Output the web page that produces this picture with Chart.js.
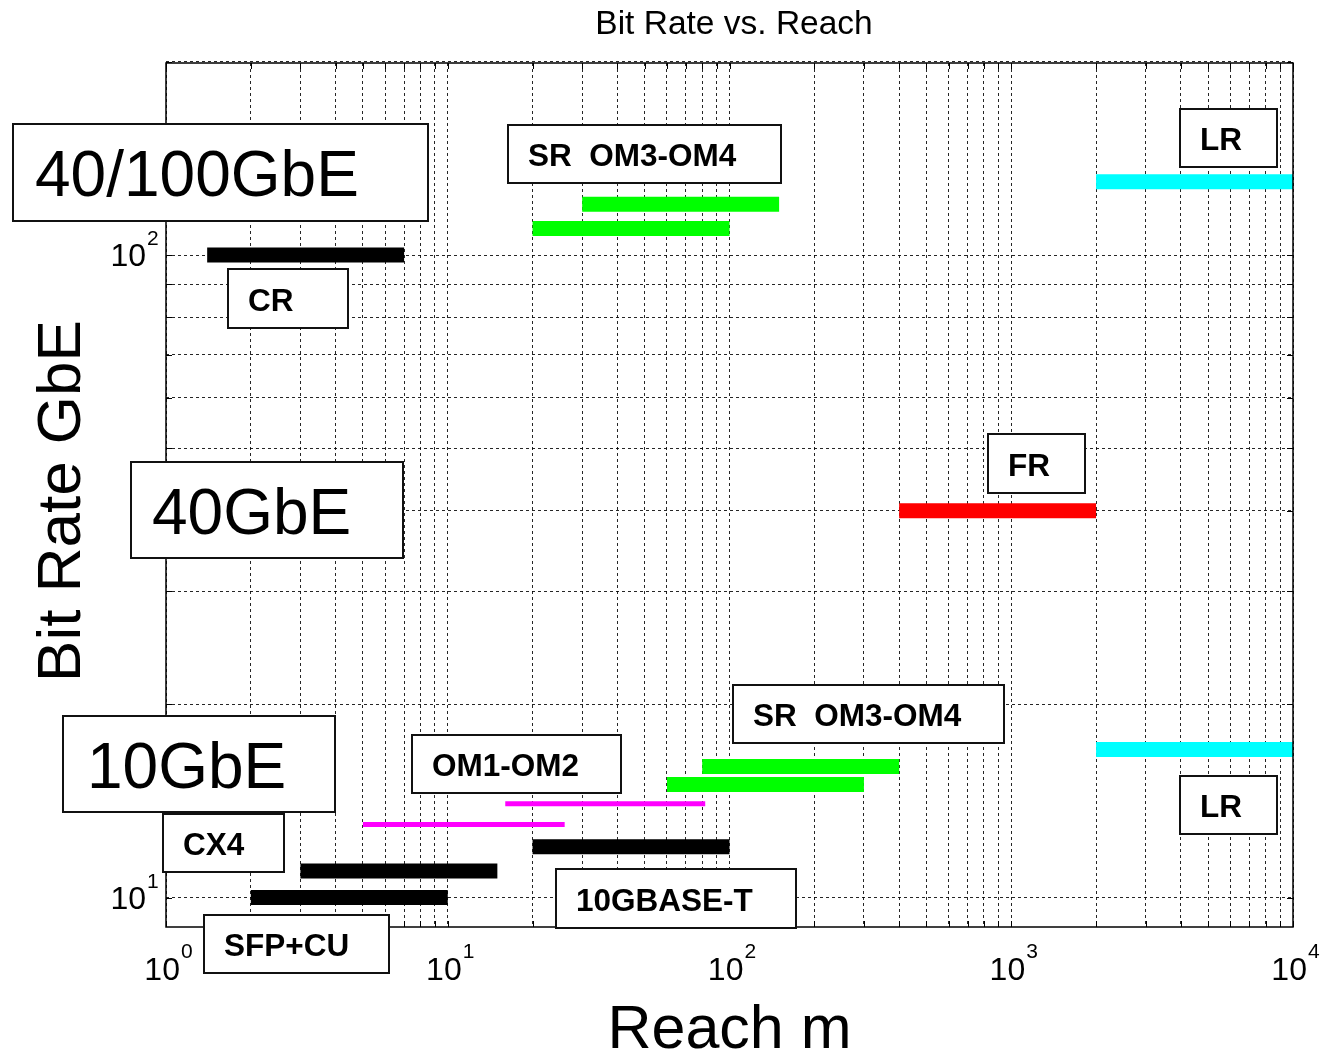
<!DOCTYPE html>
<html>
<head>
<meta charset="utf-8">
<title>Bit Rate vs. Reach</title>
<script src="https://cdn.jsdelivr.net/npm/chart.js@4.4.1/dist/chart.umd.min.js"></script>
<style>
  html, body { margin: 0; padding: 0; background: #fff; }
  #wrap { width: 1321px; height: 1058px; }
</style>
</head>
<body>
<div id="wrap"><canvas id="chart" width="1321" height="1058"></canvas></div>
<script>
// Values: reach in metres, bit rate in GbE.
const linkNames = ['CR', 'SR OM3-OM4 (a)', 'SR OM3-OM4 (b)', 'LR', 'FR', 'LR 10G', 'SR 10G (a)', 'SR 10G (b)',
                   'OM1-OM2 (a)', 'OM1-OM2 (b)', '10GBASE-T', 'CX4', 'SFP+CU'];
const reachFrom = [1.4, 30, 20, 2000, 400, 2000, 80, 60, 16, 5, 20, 3, 2];
const reachTo   = [7, 150, 100, 10000, 2000, 10000, 400, 300, 82, 26, 100, 15, 10];
const bitRate   = [100, 120, 110, 130, 40, 17, 16, 15, 14, 13, 12, 11, 10];

// styles
const black = '#000000';
const green = '#00ff00';
const cyan = '#00ffff';
const red = '#ff0000';
const magenta = '#ff00ff';
const linkColors = [black, green, green, cyan, red, cyan, green, green, magenta, magenta, black, black, black];
const linkWidths = [15, 15, 15, 15, 15, 15, 15, 15, 5, 5, 15, 15, 15];

// axis ticks
const xTickValues = [1, 10, 100, 1000, 10000];
const xTickExps = ['0', '1', '2', '3', '4'];
const yTickValues = [10, 100];
const yTickExps = ['1', '2'];
const yGridValues = [10, 20, 30, 40, 50, 60, 70, 80, 90, 100, 200];
const xGridValues = [];
[1, 10, 100, 1000].forEach(d => {
  for (let m = 1; m <= 9; m++) xGridValues.push(m * d);
});
xGridValues.push(10000);

// text boxes drawn over the plot (canvas pixels)
const boxes = [
  { text: '40/100GbE',   x: 13,   y: 124, w: 415, h: 97, size: 64, bold: false, pad: 22 },
  { text: 'SR  OM3-OM4', x: 508,  y: 125, w: 273, h: 58 },
  { text: 'LR',          x: 1180, y: 109, w: 97,  h: 58 },
  { text: 'CR',          x: 228,  y: 269, w: 120, h: 59 },
  { text: '40GbE',       x: 131,  y: 462, w: 272, h: 96, size: 64, bold: false, pad: 21 },
  { text: 'FR',          x: 988,  y: 434, w: 97,  h: 59 },
  { text: 'SR  OM3-OM4', x: 733,  y: 685, w: 271, h: 58 },
  { text: '10GbE',       x: 63,   y: 716, w: 272, h: 96, size: 64, bold: false, pad: 24 },
  { text: 'OM1-OM2',     x: 412,  y: 735, w: 209, h: 58 },
  { text: 'LR',          x: 1180, y: 776, w: 97,  h: 58 },
  { text: 'CX4',         x: 163,  y: 814, w: 121, h: 58 },
  { text: '10GBASE-T',   x: 556,  y: 869, w: 240, h: 59 },
  { text: 'SFP+CU',      x: 204,  y: 915, w: 185, h: 58 }
];

const fam = '"Liberation Sans", Arial, Helvetica, sans-serif';

const frame = {
  id: 'frame',
  afterDraw(chart) {
    const { ctx, chartArea: a, scales: { x, y } } = chart;
    ctx.save();

    // small inward ticks on all four sides
    ctx.strokeStyle = black;
    ctx.lineWidth = 1;
    ctx.setLineDash([]);
    ctx.beginPath();
    xGridValues.forEach(v => {
      const px = Math.round(x.getPixelForValue(v)) + 0.5;
      ctx.moveTo(px, a.bottom); ctx.lineTo(px, a.bottom - 6);
      ctx.moveTo(px, a.top); ctx.lineTo(px, a.top + 6);
    });
    yGridValues.forEach(v => {
      const py = Math.round(y.getPixelForValue(v)) + 0.5;
      ctx.moveTo(a.left, py); ctx.lineTo(a.left + 6, py);
      ctx.moveTo(a.right, py); ctx.lineTo(a.right - 6, py);
    });
    ctx.stroke();

    // axes box
    ctx.lineWidth = 1.5;
    ctx.strokeRect(a.left, a.top, a.right - a.left, a.bottom - a.top);

    // tick labels 10^n
    ctx.fillStyle = black;
    ctx.textAlign = 'left';
    ctx.textBaseline = 'alphabetic';
    const big = '32px ' + fam, small = '21px ' + fam;
    xTickValues.forEach((v, i) => {
      const px = x.getPixelForValue(v);
      ctx.font = big;
      const w10 = ctx.measureText('10').width;
      ctx.font = small;
      const we = ctx.measureText(xTickExps[i]).width;
      const sx = px - (w10 + we) / 2 + 2;
      ctx.font = big;
      ctx.fillText('10', sx, a.bottom + 53);
      ctx.font = small;
      ctx.fillText(xTickExps[i], sx + w10 + 1, a.bottom + 31);
    });
    yTickValues.forEach((v, i) => {
      const py = y.getPixelForValue(v);
      ctx.font = big;
      const w10 = ctx.measureText('10').width;
      ctx.fillText('10', a.left - 20 - w10, py + 11);
      ctx.font = small;
      ctx.fillText(yTickExps[i], a.left - 19, py - 10);
    });

    // title and axis titles
    ctx.textAlign = 'center';
    ctx.font = '33.5px ' + fam;
    ctx.fillText('Bit Rate vs. Reach', 734, 34);
    ctx.font = '61px ' + fam;
    ctx.fillText('Reach m', (a.left + a.right) / 2, 1048);
    ctx.font = '62px ' + fam;
    ctx.save();
    ctx.translate(80, 501);
    ctx.rotate(-Math.PI / 2);
    ctx.fillText('Bit Rate GbE', 0, 0);
    ctx.restore();

    // labelled text boxes
    ctx.textAlign = 'left';
    boxes.forEach(b => {
      const size = b.size || 31.5;
      const weight = b.bold === false ? '' : 'bold ';
      ctx.fillStyle = '#ffffff';
      ctx.fillRect(b.x, b.y, b.w, b.h);
      ctx.strokeStyle = '#111111';
      ctx.lineWidth = 2;
      ctx.strokeRect(b.x, b.y, b.w, b.h);
      ctx.fillStyle = black;
      ctx.font = weight + size + 'px ' + fam;
      ctx.fillText(b.text, b.x + (b.pad || 20), b.y + b.h / 2 + size * 0.358 + 1);
    });

    ctx.restore();
  }
};

const datasets = linkNames.map((name, i) => ({
  label: name,
  data: [{ x: reachFrom[i], y: bitRate[i] }, { x: reachTo[i], y: bitRate[i] }],
  borderColor: linkColors[i],
  backgroundColor: linkColors[i],
  borderWidth: linkWidths[i],
  borderCapStyle: 'butt',
  pointRadius: 0,
  fill: false,
  tension: 0
}));

const gridStyle = { color: 'rgba(0,0,0,0.85)', lineWidth: 1, drawTicks: false };

new Chart(document.getElementById('chart').getContext('2d'), {
  type: 'line',
  data: { datasets },
  plugins: [frame],
  options: {
    responsive: false,
    animation: false,
    layout: { padding: { left: 166, right: 28, top: 63, bottom: 131 } },
    plugins: {
      legend: { display: false },
      tooltip: { enabled: false },
      title: { display: false }
    },
    scales: {
      x: {
        type: 'logarithmic',
        min: 1,
        max: 10000,
        ticks: { display: false },
        grid: gridStyle,
        border: { display: false, dash: [3, 3] },
        afterBuildTicks: s => { s.ticks = xGridValues.map(v => ({ value: v })); }
      },
      y: {
        type: 'logarithmic',
        min: 9,
        max: 199,
        ticks: { display: false },
        grid: gridStyle,
        border: { display: false, dash: [3, 3] },
        afterBuildTicks: s => { s.ticks = yGridValues.map(v => ({ value: v })); }
      }
    }
  }
});
</script>
</body>
</html>
